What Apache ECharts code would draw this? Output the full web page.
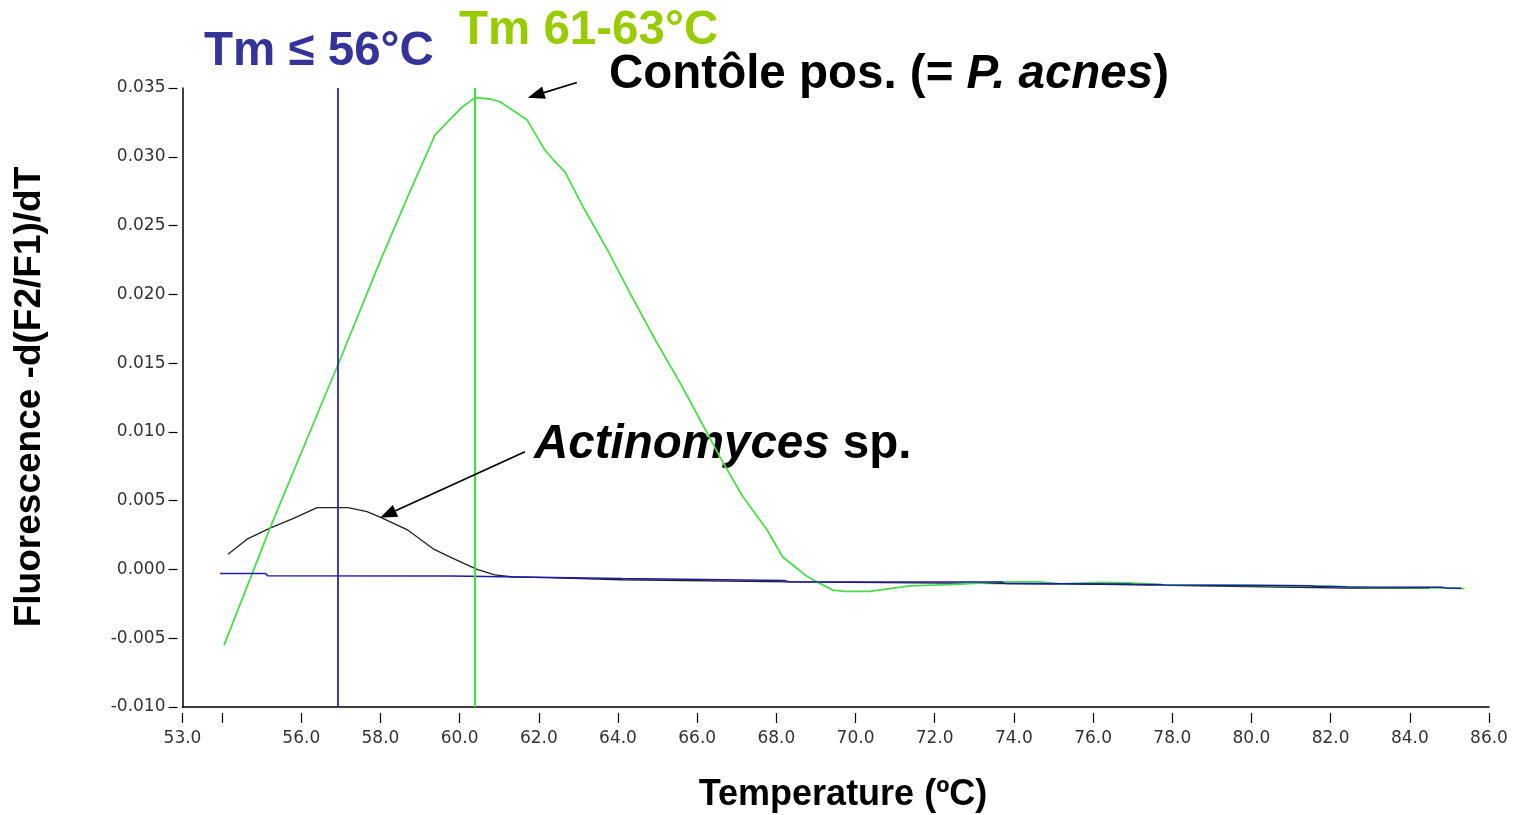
<!DOCTYPE html>
<html>
<head>
<meta charset="utf-8">
<script src="https://cdn.jsdelivr.net/npm/echarts@6/dist/echarts.min.js"></script>
<style>
html,body{margin:0;padding:0;background:#fff;}
#c{width:1521px;height:815px;}
</style>
</head>
<body>
<div id="c"></div>
<script>
// ---- data (temperature °C, -d(F2/F1)/dT) ----
const xTickValues = [53, 54, 56, 58, 60, 62, 64, 66, 68, 70, 72, 74, 76, 78, 80, 82, 84, 86];
const xLabelValues = [53, 56, 58, 60, 62, 64, 66, 68, 70, 72, 74, 76, 78, 80, 82, 84, 86];

const posControl = [
  [54.05,-0.0055],[55.21,0.0030],[56.55,0.0123],[56.93,0.0149],[57.99,0.0224],
  [58.75,0.0275],[59.38,0.0316],[59.75,0.0327],[60.06,0.0336],[60.39,0.0343],
  [60.77,0.0342],[61.02,0.0340],[61.70,0.0327],[62.15,0.0305],[62.36,0.0298],
  [62.66,0.0289],[63.11,0.0264],[63.72,0.0233],[64.30,0.0201],[64.98,0.0165],
  [65.56,0.0136],[66.07,0.0109],[66.57,0.0082],[67.15,0.0053],[67.76,0.0029],
  [68.16,0.0009],[68.77,-0.0005],[69.02,-0.0009],[69.43,-0.0015],[69.73,-0.0016],
  [70.36,-0.0016],[70.87,-0.0014],[71.37,-0.0012],[72.38,-0.0011],[73.77,-0.0009],
  [74.65,-0.0009],[75.16,-0.00105],[76.17,-0.00095],[76.93,-0.00098],[77.74,-0.00112],
  [79.90,-0.00115],[81.50,-0.0012],[83.00,-0.0013],[84.80,-0.00133],[85.38,-0.0014]
];

const actinomyces = [
  [54.15,0.0011],[54.63,0.0022],[55.21,0.0030],[55.79,0.0037],[56.40,0.0045],
  [57.18,0.0045],[57.66,0.0042],[57.99,0.0038],[58.67,0.0029],[59.33,0.0015],
  [59.83,0.0008],[60.44,0.0000],[60.89,-0.0004],[61.35,-0.00055],[62.20,-0.0006],
  [62.25,-0.00072],[64.10,-0.00075],[68.30,-0.0009],[74.65,-0.00105],[76.20,-0.00108],
  [82.40,-0.00135],[84.50,-0.00138]
];

const baseline = [
  [53.95,-0.0003],[55.10,-0.0003],[55.15,-0.00045],[59.80,-0.00048],[59.85,-0.0006],
  [64.10,-0.00065],[64.15,-0.00075],[68.20,-0.0008],[68.30,-0.0009],[73.70,-0.00092],
  [73.80,-0.00103],[76.90,-0.00105],[77.00,-0.00108],[77.70,-0.0011],[77.80,-0.00113],
  [81.50,-0.00118],[81.60,-0.00123],[82.30,-0.00125],[82.40,-0.00128],[84.80,-0.0013],
  [84.90,-0.00134],[85.30,-0.00137]
];

const tmLow = 56.93;     // blue marker line
const tmPos = 60.39;     // green marker line
const arrowPos = [[62.96,0.0354],[61.72,0.0343]];
const arrowActino = [[61.65,0.00856],[57.99,0.00375]];

// ---- chart ----
const chart = echarts.init(document.getElementById('c'), null, {renderer:'canvas'});
const tickFont = {fontFamily:'"DejaVu Sans", Verdana, sans-serif', fontSize:17, color:'#333'};
const bold = '"Liberation Sans", Arial, sans-serif';

chart.setOption({
  animation:false,
  backgroundColor:'#fff',
  grid:{left:182.5, right:32, top:88, bottom:108},
  xAxis:[
    {type:'value', min:53, max:86, position:'bottom',
     axisLine:{show:true, onZero:false, lineStyle:{color:'#000', width:1.5}},
     axisTick:{show:false}, axisLabel:{show:false}, splitLine:{show:false}},
    {type:'value', min:53, max:86, position:'bottom', offset:6,
     axisLine:{show:false, onZero:false},
     axisTick:{show:true, length:10, customValues:xTickValues, lineStyle:{color:'#000', width:1.2}},
     axisLabel:{show:true, customValues:xLabelValues, margin:17, formatter:v=>v.toFixed(1), ...tickFont},
     splitLine:{show:false}}
  ],
  yAxis:[
    {type:'value', min:-0.010, max:0.035, interval:0.005,
     axisLine:{show:true, onZero:false, lineStyle:{color:'#000', width:1.5}},
     axisTick:{show:false}, axisLabel:{show:false}, splitLine:{show:false}},
    {type:'value', min:-0.010, max:0.035, interval:0.005, position:'left', offset:5,
     axisLine:{show:false, onZero:false},
     axisTick:{show:true, length:9, lineStyle:{color:'#000', width:1.2}},
     axisLabel:{show:true, margin:12, formatter:v=>v.toFixed(3), ...tickFont},
     splitLine:{show:false}}
  ],
  series:[
    {type:'line', name:'Actinomyces', data:actinomyces, xAxisIndex:0, yAxisIndex:0,
     showSymbol:false, lineStyle:{color:'#222', width:1.3}, z:2},
    {type:'line', name:'P. acnes', data:posControl, xAxisIndex:0, yAxisIndex:0,
     showSymbol:false, lineStyle:{color:'#4cdc4c', width:1.8}, z:3},
    {type:'line', name:'baseline', data:baseline, xAxisIndex:0, yAxisIndex:0,
     showSymbol:false, lineStyle:{color:'#1c1ca8', width:1.5}, z:4},
    {type:'line', name:'markers', data:[], xAxisIndex:0, yAxisIndex:0, clip:false, z:5,
     markLine:{silent:true, symbol:'none', label:{show:false},
       data:[
         {xAxis:tmLow, lineStyle:{color:'#2a2aa8', width:1.8, type:'solid'}},
         {xAxis:tmPos, lineStyle:{color:'#48dc48', width:2.2, type:'solid'}}
       ]}}
  ]
});

// arrows, positioned through the chart's own scales
function arrowGraphics(id, from, to){
  const p0 = chart.convertToPixel({xAxisIndex:0, yAxisIndex:0}, from);
  const p1 = chart.convertToPixel({xAxisIndex:0, yAxisIndex:0}, to);
  const dx = p1[0]-p0[0], dy = p1[1]-p0[1];
  const len = Math.sqrt(dx*dx+dy*dy);
  const ux = dx/len, uy = dy/len;
  const hl = 17, hw = 6.5;
  const bx = p1[0]-ux*hl, by = p1[1]-uy*hl;
  return [
    {type:'line', id:id+'_l', z:100, shape:{x1:p0[0], y1:p0[1], x2:bx, y2:by},
     style:{stroke:'#000', lineWidth:1.8}},
    {type:'polygon', id:id+'_h', z:100, shape:{points:[[p1[0],p1[1]],[bx-uy*hw, by+ux*hw],[bx+uy*hw, by-ux*hw]]},
     style:{fill:'#000'}}
  ];
}

chart.setOption({
  graphic:[
    {type:'text', id:'t1', x:204, y:52, style:{text:'Tm ≤ 56°C', font:'bold 47.5px '+bold, fill:'#333399', textVerticalAlign:'middle'}},
    {type:'text', id:'t2', x:459, y:31, style:{text:'Tm 61-63°C', font:'bold 47.5px '+bold, fill:'#99cc00', textVerticalAlign:'middle'}},
    {type:'text', id:'t3', x:609, y:75, style:{
      text:'{b|Contôle pos. (= }{i|P. acnes}{b|)}',
      textVerticalAlign:'middle',
      rich:{b:{font:'bold 47.5px '+bold, fill:'#000'}, i:{font:'italic bold 47.5px '+bold, fill:'#000'}}}},
    {type:'text', id:'t4', x:534, y:445, style:{
      text:'{i|Actinomyces}{b| sp.}',
      textVerticalAlign:'middle',
      rich:{b:{font:'bold 47.5px '+bold, fill:'#000'}, i:{font:'italic bold 47.5px '+bold, fill:'#000'}}}},
    {type:'text', id:'t5', x:30, y:397, rotation:Math.PI/2, style:{text:'Fluorescence -d(F2/F1)/dT', font:'bold 37px '+bold, fill:'#000', textAlign:'center', textVerticalAlign:'middle'}},
    {type:'text', id:'t6', x:843, y:795, style:{text:'Temperature (ºC)', font:'bold 36px '+bold, fill:'#000', textAlign:'center', textVerticalAlign:'middle'}}
  ].concat(arrowGraphics('a1', arrowPos[0], arrowPos[1]), arrowGraphics('a2', arrowActino[0], arrowActino[1]))
});
</script>
</body>
</html>
